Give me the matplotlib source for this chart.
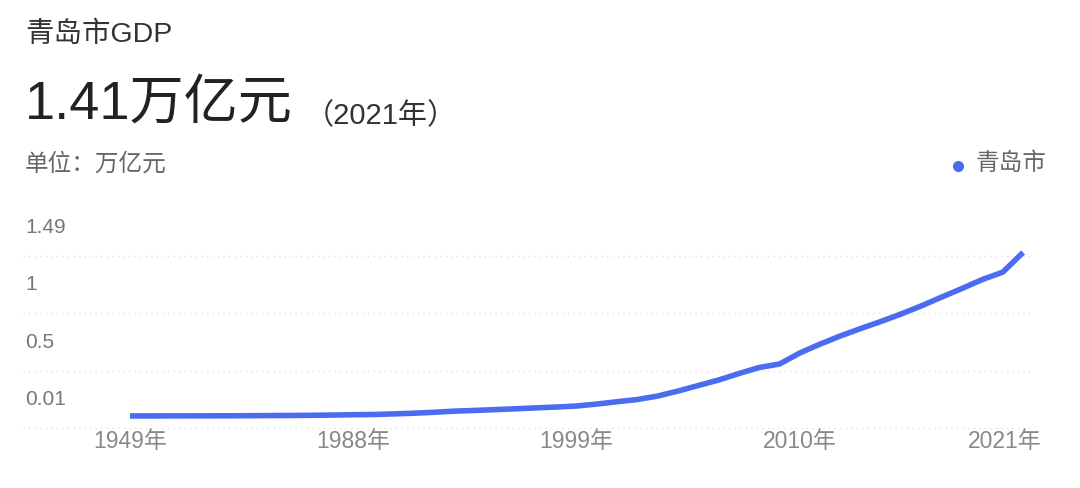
import matplotlib
matplotlib.use("Agg")
import matplotlib.pyplot as plt
from matplotlib.lines import Line2D

# 拉丁字符用 Liberation Sans，中文回退到 Noto Sans CJK SC
plt.rcParams['font.family'] = ['Liberation Sans', 'Noto Sans CJK SC', 'DejaVu Sans']

# 数据（万亿元），1988年以前为间隔年份
years = [1949, 1952, 1957, 1962, 1965, 1970, 1975, 1978, 1980, 1983, 1985,
         1988, 1989, 1990, 1991, 1992, 1993, 1994, 1995, 1996, 1997, 1998,
         1999, 2000, 2001, 2002, 2003, 2004, 2005, 2006, 2007, 2008, 2009,
         2010, 2011, 2012, 2013, 2014, 2015, 2016, 2017, 2018, 2019, 2020, 2021]
gdp = [0.0003, 0.0005, 0.0009, 0.0012, 0.0013, 0.0018, 0.0025, 0.0038, 0.0045, 0.0060, 0.0080,
       0.0110, 0.0130, 0.0180, 0.0240, 0.0320, 0.0420, 0.0480, 0.0550, 0.0620, 0.0700, 0.0770,
       0.0860, 0.1030, 0.1230, 0.1420, 0.1720, 0.2150, 0.2630, 0.3100, 0.3660, 0.4180, 0.4480,
       0.5430, 0.6200, 0.6900, 0.7540, 0.8150, 0.8800, 0.9500, 1.0260, 1.1000, 1.1770, 1.2400, 1.4100]
y_ticks = [0.01, 0.5, 1, 1.49]
y_tick_labels = ['0.01', '0.5', '1', '1.49']
x_label_years = [1949, 1988, 1999, 2010, 2021]

line_color = '#4a6cf0'
W, H = 1080, 488

fig = plt.figure(figsize=(W / 100, H / 100), dpi=100)
# 坐标区域（像素换算）
ax = fig.add_axes([23 / W, (H - 440) / H, (1031 - 23) / W, 240 / H])
ax.set_xlim(-5.27, 44.39)
ax.set_ylim(-0.207, 1.862)
ax.axis('off')

idx = list(range(len(years)))
ax.plot(idx, gdp, color=line_color, linewidth=4, solid_capstyle='butt',
        solid_joinstyle='round', zorder=3)

# 网格线与y轴标签（标签在网格线上方）
for v, lab in zip(y_ticks, y_tick_labels):
    g = v - 0.11
    ax.axhline(g, color='#e3e3e3', linewidth=1, linestyle=(0, (1, 3)), zorder=1)
    ax.annotate(lab, xy=(0, g), xycoords=('axes fraction', 'data'),
                xytext=(2, 28), textcoords='offset pixels',
                ha='left', va='center', fontsize=15, color='#777777')

# x轴标签
for yr in x_label_years:
    i = years.index(yr)
    dx = -18 if i == len(years) - 1 else 0
    ax.annotate(str(yr) + '年', xy=(i, 0), xycoords=('data', 'axes fraction'),
                xytext=(dx, -1), textcoords='offset pixels',
                ha='center', va='center', fontsize=16.5, color='#888888')

# 顶部文字
fig.text(25 / W, 1 - 35 / H, '青岛市GDP', fontsize=20.5, color='#333333',
         ha='left', va='center')
fig.text(25 / W, 1 - 105 / H, '1.41万亿元', fontsize=39, color='#222222',
         ha='left', va='center')
fig.text(305 / W, 1 - 116 / H, '（2021年）', fontsize=21, color='#333333',
         ha='left', va='center')
fig.text(25 / W, 1 - 164 / H, '单位：万亿元', fontsize=17, color='#666666',
         ha='left', va='center')

# 图例
fig.add_artist(Line2D([958 / W], [1 - 166 / H], marker='o', markersize=7,
                      color=line_color, linestyle='', transform=fig.transFigure))
fig.text(976 / W, 1 - 164 / H, '青岛市', fontsize=17, color='#666666',
         ha='left', va='center')

fig.savefig('out.png', dpi=100)
